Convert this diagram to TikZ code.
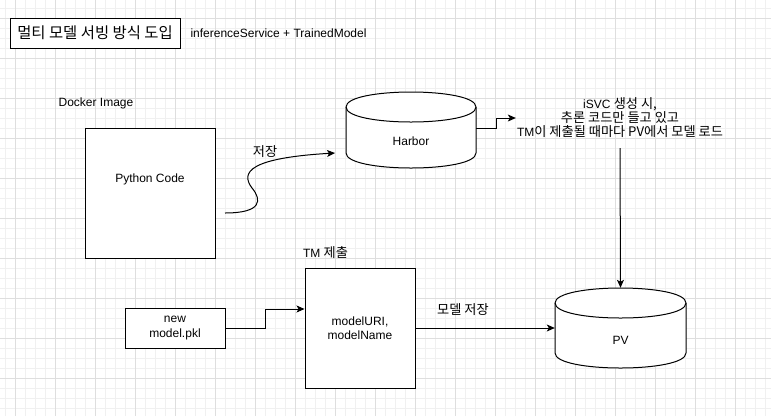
\documentclass[tikz,border=0pt]{standalone}
\usepackage{fontspec}
\setmainfont{Liberation Sans}
\newfontfamily\kr{Noto Sans CJK KR}[Scale=1.1]
\usetikzlibrary{arrows.meta}
\begin{document}
\begin{tikzpicture}[x=1pt,y=-1pt,
  every node/.style={font=\fontsize{12}{14.5}\selectfont, inner sep=0pt, align=center},
  box/.style={draw, fill=white, line width=1pt},
  cyl/.style={draw, fill=white, line width=1pt},
  cylline/.style={draw, line width=1pt},
  arr/.style={draw, line width=1pt, -{Stealth[length=8pt,width=7pt,inset=2pt]}},
  minorgrid/.style={draw=black!6, line width=0.8pt},
  majorgrid/.style={draw=black!13, line width=0.8pt}]
\useasboundingbox (0,0) rectangle (771,416);
\fill[white] (0,0) rectangle (771,416);
% grid
\foreach \x in {5,15,...,765} \draw[minorgrid] (\x,0) -- (\x,416);
\foreach \y in {8,18,...,408} \draw[minorgrid] (0,\y) -- (771,\y);
\foreach \x in {15,55,...,735} \draw[majorgrid] (\x,0) -- (\x,416);
\foreach \y in {18,58,...,378} \draw[majorgrid] (0,\y) -- (771,\y);

% title
\node[box, minimum width=170pt, minimum height=30pt, font=\kr\fontsize{14}{16}\selectfont] (title) at (95,33) {멀티 모델 서빙 방식 도입};
\node (subtitle) at (278.5,33) {inferenceService + TrainedModel};

% docker image
\node (docker) at (96,103) {Docker Image};
\node[box, minimum width=130pt, minimum height=130pt] (py) at (150,193) {};
\node (pytext) at (150,179) {Python Code};

% Harbor cylinder
\filldraw[cyl] (346,107) .. controls (346,87) and (476,87) .. (476,107) -- (476,153) .. controls (476,173) and (346,173) .. (346,153) -- cycle;
\draw[cylline] (346,107) .. controls (346,127) and (476,127) .. (476,107);
\node[minimum width=130pt, minimum height=76pt] (harbor) at (411,130) {};
\node (harbortxt) at (411,141) {Harbor};

% PV cylinder
\filldraw[cyl] (555,303) .. controls (555,283) and (686,283) .. (686,303) -- (686,353) .. controls (686,373) and (555,373) .. (555,353) -- cycle;
\draw[cylline] (555,303) .. controls (555,323) and (686,323) .. (686,303);
\node[minimum width=131pt, minimum height=80pt] (pv) at (620.5,328) {};
\node (pvtxt) at (620.5,340) {PV};

% curved arrow to Harbor
\coordinate (cs) at (225,213);
\coordinate (ce) at (335,153);
\draw[arr] (cs) .. controls (262,213) and (262,200) .. (252,188) .. controls (240,172) and (250,158) .. (ce);
\node (save) at (265,152) {\kr 저장};

% iSVC note
\node[inner xsep=1pt, inner ysep=10pt, font=\fontsize{12}{14}\selectfont] (isvc) at (620,118) {iSVC \kr{생성 시}, \\ \kr{추론 코드만 들고 있고} \\ TM\kr{이 제출될 때마다} PV\kr{에서 모델 로드}};
\draw[arr] ([yshift=2pt]harbor.east) -- ++(20,0) |- (isvc.west);
\draw[arr] (isvc.south) -- (pv.north);

% TM
\node (tmlabel) at (325.5,253) {TM \kr{제출}};
\node[box, minimum width=110pt, minimum height=120pt] (tm) at (360,328) {modelURI,\\modelName};
\node[box, minimum width=100pt, minimum height=40pt] (pkl) at (175,328) {new\\model.pkl};
\draw[arr] (pkl.east) -- ++(40,0) |- ([yshift=19pt]tm.west);
\draw[arr] (tm.east) -- (pv.west);
\node (modelsave) at (463,310) {\kr 모델 저장};
\end{tikzpicture}
\end{document}
